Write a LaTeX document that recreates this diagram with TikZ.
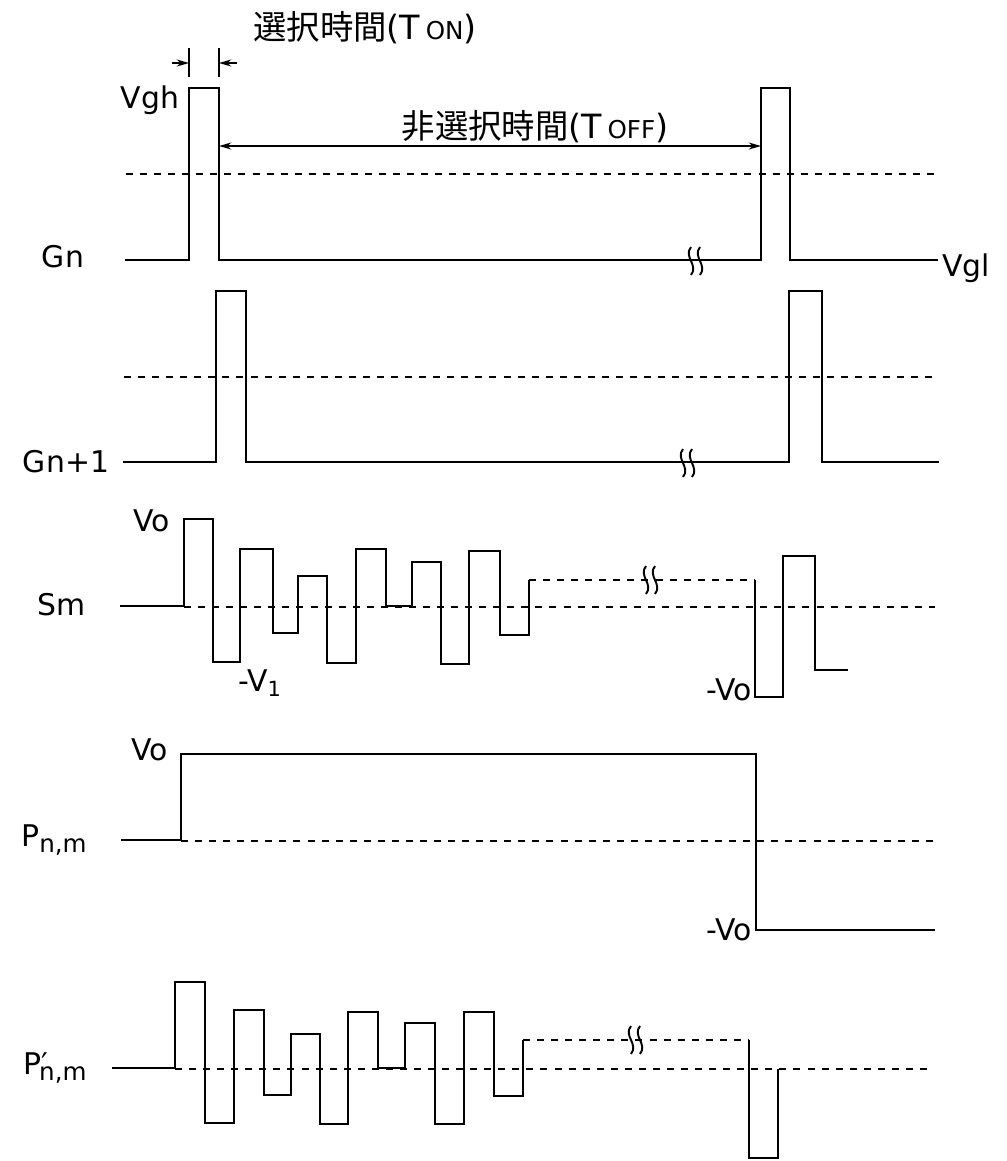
\documentclass[tikz,border=0pt]{standalone}
\usepackage{fontspec}
\setmainfont{DejaVu Sans}
\newfontfamily\jpfont{Noto Sans CJK JP}
\usetikzlibrary{arrows.meta}
\newcommand\smcap[1]{{\fontsize{14}{14}\selectfont #1}}
\newcommand\subnm{{\fontsize{14}{14}\selectfont\raisebox{-0.4ex}{n,m}}}

\tikzset{
  wave/.style={line width=1.3pt},
  zero/.style={line width=1.1pt, dash pattern=on 4pt off 4pt},
  lbl/.style={inner sep=0pt, font=\fontsize{17}{19}\selectfont},
  jplbl/.style={inner sep=0pt, font=\fontsize{19}{21}\selectfont},
  dim/.style={line width=0.9pt},
  brkmark/.pic={
    \draw[line width=1.1pt] (-4,-14) .. controls (-12,-4) and (4,4) .. (-4,14);
    \draw[line width=1.1pt] (5,-14) .. controls (-3,-4) and (13,4) .. (5,14);
  }
}

\begin{document}
\begin{tikzpicture}[x=0.02cm, y=-0.02cm, >={Stealth[length=7pt,width=4pt]}]
  \useasboundingbox (0,0) rectangle (1007,1161);

  % Gn
  \node[lbl] (gn) at (63,257) {Gn};
  \node[lbl] (vgh) at (150,100) {Vgh};
  \node[lbl, anchor=west] (vgl) at (942,268) {Vgl};
  \draw[zero] (126,174) -- (940,174);
  \draw[wave] (125,260) -| (189,88) -| (219,260) -- (761,260) |- (790,88) |- (938,260);
  \pic at (695,261) {brkmark};

  % selection time
  \coordinate (ton a) at (189,48);
  \coordinate (ton b) at (219,48);
  \draw[dim] (ton a) -- ++(0,29);
  \draw[dim] (ton b) -- ++(0,29);
  \draw[dim, ->] (172,63) -- (189,63);
  \draw[dim, ->] (237,63) -- (219,63);
  \node[jplbl] (ton) at (365,28) {{\jpfont 選択時間}(T\,\smcap{ON})};

  % non-selection time
  \coordinate (toff a) at (219,146);
  \coordinate (toff b) at (761,146);
  \draw[dim, <->] (toff a) -- (toff b);
  \node[jplbl] (toff) at (535,127) {{\jpfont 非選択時間}(T\,\smcap{OFF})};

  % Gn+1
  \node[lbl] (gn1) at (66,462) {Gn+1};
  \draw[zero] (124,377) -- (939,377);
  \draw[wave] (123,462) -| (216,291) -| (246,462) -- (789,462) |- (822,291) |- (939,462);
  \pic at (687,463) {brkmark};

  % Sm
  \node[lbl] (sm) at (62,605) {Sm};
  \node[lbl] (smvo) at (152,521) {Vo};
  \node[lbl] (smv1) at (260,683) {-V\textsubscript{1}};
  \node[lbl, anchor=east] (smmvo) at (752,690) {-Vo};
  \draw[zero] (184,607) -- (935,607);
  \draw[wave] (120,606) -| (184,519) -| (213,662) -| (240,549) -| (273,633)
    -| (298,576) -| (327,663) -| (356,549) -| (386,606) -| (412,562)
    -| (441,664) -| (469,551) -| (500,635) -| (529,580);
  \draw[zero] (529,580) -- (755,580);
  \draw[wave] (755,580) -- (755,697) -| (783,556) -| (815,670) -- (848,670);
  \pic at (650,580) {brkmark};

  % Pn,m
  \node[lbl] (pnm) at (54,840) {P\subnm};
  \node[lbl] (pvo) at (150,750) {Vo};
  \node[lbl, anchor=east] (pmvo) at (752,930) {-Vo};
  \draw[zero] (181,841) -- (939,841);
  \draw[wave] (121,840) -| (181,754) -| (756,930) -- (935,930);

  % P'n,m
  \node[lbl] (pdnm) at (55,1068) {P′\kern-0.3em\subnm};
  \draw[zero] (175,1069) -- (928,1069);
  \draw[wave] (112,1068) -| (175,982) -| (205,1123) -| (234,1010) -| (264,1095)
    -| (291,1034) -| (320,1124) -| (348,1012) -| (378,1068) -| (405,1023)
    -| (435,1124) -| (464,1012) -| (494,1096) -| (523,1040);
  \draw[zero] (523,1040) -- (749,1040);
  \draw[wave] (749,1040) -- (749,1158) -| (778,1069);
  \pic at (635,1040) {brkmark};
\end{tikzpicture}
\end{document}
